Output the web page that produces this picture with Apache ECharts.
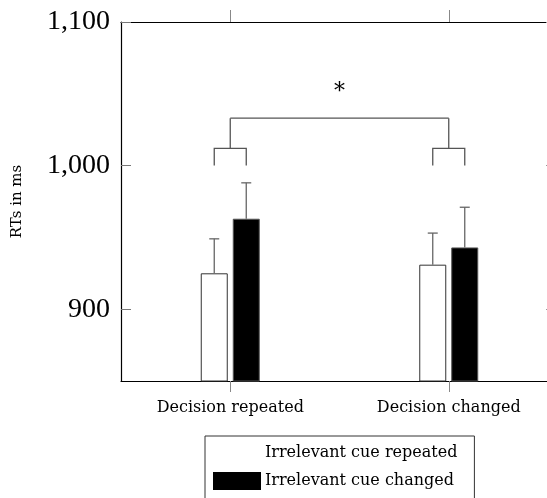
<!DOCTYPE html>
<html>
<head>
<meta charset="utf-8">
<script src="https://cdn.jsdelivr.net/npm/echarts@6/dist/echarts.min.js"></script>
<style>
  html, body { margin: 0; padding: 0; background: #fff; }
  #chart { width: 547px; height: 498px; }
</style>
</head>
<body>
<div id="chart"></div>
<script>
// 数据
var categories = ['Decision repeated', 'Decision changed'];
var seriesNames = ['Irrelevant cue repeated', 'Irrelevant cue changed'];
var repeatedMeans = [925, 931];
var changedMeans = [963, 943];
var repeatedErr = [24, 22];
var changedErr = [25, 28];
var yTicks = [900, 1000, 1100];
// 显著性括号（值坐标）
var bracketLevels = [1000, 1012, 1033];
var starLevel = 1051;
var starText = '*';

var serif = 'DejaVu Serif';
var barW = 27;
var barGapPx = 5;
var half = (barW + barGapPx) / 2;

var myChart = echarts.init(document.getElementById('chart'));

function errorItem(dx) {
  return function (params, api) {
    var x = api.coord([api.value(0), api.value(1)]);
    var top = api.coord([api.value(0), api.value(1) + api.value(2)]);
    var cx = x[0] + dx;
    var st = { stroke: '#666', lineWidth: 1.3 };
    return {
      type: 'group',
      children: [
        { type: 'line', shape: { x1: cx, y1: x[1], x2: cx, y2: top[1] }, style: st },
        { type: 'line', shape: { x1: cx - 5, y1: top[1], x2: cx + 5, y2: top[1] }, style: st }
      ]
    };
  };
}

let options = {
  animation: false,
  grid: { left: 121, width: 437, top: 22, bottom: 117, outerBoundsMode: 'none' },
  legend: {
    orient: 'vertical',
    left: 205,
    top: 436,
    height: 60,
    padding: [8, 17, 40, 8],
    borderColor: '#333',
    borderWidth: 1,
    itemWidth: 46,
    itemHeight: 16,
    itemGap: 10,
    icon: 'rect',
    selectedMode: false,
    textStyle: { fontFamily: serif, fontSize: 16, color: '#000' },
    data: [
      { name: seriesNames[0], itemStyle: { color: '#fff', borderColor: '#fff' } },
      { name: seriesNames[1], itemStyle: { color: '#000', borderColor: '#000' } }
    ]
  },
  xAxis: [
    {
      type: 'category',
      data: categories,
      position: 'bottom',
      axisLine: { lineStyle: { color: '#000', width: 1.2 } },
      axisTick: { show: true, alignWithLabel: true, length: 11, lineStyle: { color: '#888' } },
      axisLabel: { fontFamily: serif, fontSize: 16, color: '#000', margin: 19 }
    },
    {
      type: 'category',
      data: categories,
      position: 'top',
      axisLine: { lineStyle: { color: '#000', width: 1.2 } },
      axisTick: { show: true, alignWithLabel: true, length: 12, lineStyle: { color: '#888' } },
      axisLabel: { show: true, color: 'rgba(0,0,0,0)' }
    }
  ],
  yAxis: [
    {
      type: 'value',
      min: 850,
      max: 1100,
      interval: 50,
      name: 'RTs in ms',
      nameLocation: 'middle',
      nameGap: 96,
      nameTextStyle: { fontFamily: serif, fontSize: 15, color: '#000' },
      axisLine: { show: true, lineStyle: { color: '#000', width: 1.2 } },
      axisTick: {
        show: true, inside: true, length: 10,
        lineStyle: { color: '#777' },
        customValues: yTicks
      },
      axisLabel: {
        fontFamily: 'Liberation Serif', fontSize: 28, color: '#000', margin: 11,
        customValues: yTicks,
        formatter: function (v) { return v.toLocaleString('en-US'); }
      },
      splitLine: { show: false }
    },
    {
      type: 'value',
      min: 850,
      max: 1100,
      interval: 50,
      position: 'right',
      axisLine: { show: true, lineStyle: { color: '#000' } },
      axisTick: { show: true, inside: true, length: 12, lineStyle: { color: '#999' }, customValues: yTicks },
      axisLabel: { show: false },
      splitLine: { show: false }
    }
  ],
  series: [
    {
      name: seriesNames[0],
      type: 'bar',
      data: repeatedMeans,
      barWidth: barW,
      barGap: (barGapPx / barW * 100) + '%',
      itemStyle: { color: '#fff', borderColor: '#333', borderWidth: 1 },
      z: 2
    },
    {
      name: seriesNames[1],
      type: 'bar',
      data: changedMeans,
      barWidth: barW,
      itemStyle: { color: '#000', borderColor: '#555', borderWidth: 1 },
      z: 2
    },
    {
      type: 'custom',
      renderItem: errorItem(-half),
      data: repeatedMeans.map(function (m, i) { return [i, m, repeatedErr[i]]; }),
      z: 3,
      silent: true
    },
    {
      type: 'custom',
      renderItem: errorItem(half),
      data: changedMeans.map(function (m, i) { return [i, m, changedErr[i]]; }),
      z: 3,
      silent: true
    },
    {
      // 显著性括号
      type: 'custom',
      silent: true,
      z: 3,
      data: [[0]],
      renderItem: function (params, api) {
        var st = { stroke: '#555', lineWidth: 1.3, fill: null };
        var kids = [];
        var mids = [];
        for (var i = 0; i < categories.length; i++) {
          var low = api.coord([i, bracketLevels[0]]);
          var mid = api.coord([i, bracketLevels[1]]);
          var top = api.coord([i, bracketLevels[2]]);
          kids.push({
            type: 'polyline',
            shape: { points: [[low[0] - half, low[1]], [low[0] - half, mid[1]], [low[0] + half, mid[1]], [low[0] + half, low[1]]] },
            style: st
          });
          kids.push({ type: 'line', shape: { x1: mid[0], y1: mid[1], x2: top[0], y2: top[1] }, style: st });
          mids.push(top);
        }
        kids.push({ type: 'line', shape: { x1: mids[0][0], y1: mids[0][1], x2: mids[1][0], y2: mids[1][1] }, style: st });
        var s = api.coord([0, starLevel]);
        var s2 = api.coord([1, starLevel]);
        kids.push({
          type: 'text',
          style: {
            text: starText, x: (s[0] + s2[0]) / 2, y: s[1],
            font: '22px "DejaVu Serif"', fill: '#000', align: 'center', verticalAlign: 'middle'
          }
        });
        return { type: 'group', children: kids };
      }
    }
  ]
};
myChart.setOption(options);
</script>
</body>
</html>
